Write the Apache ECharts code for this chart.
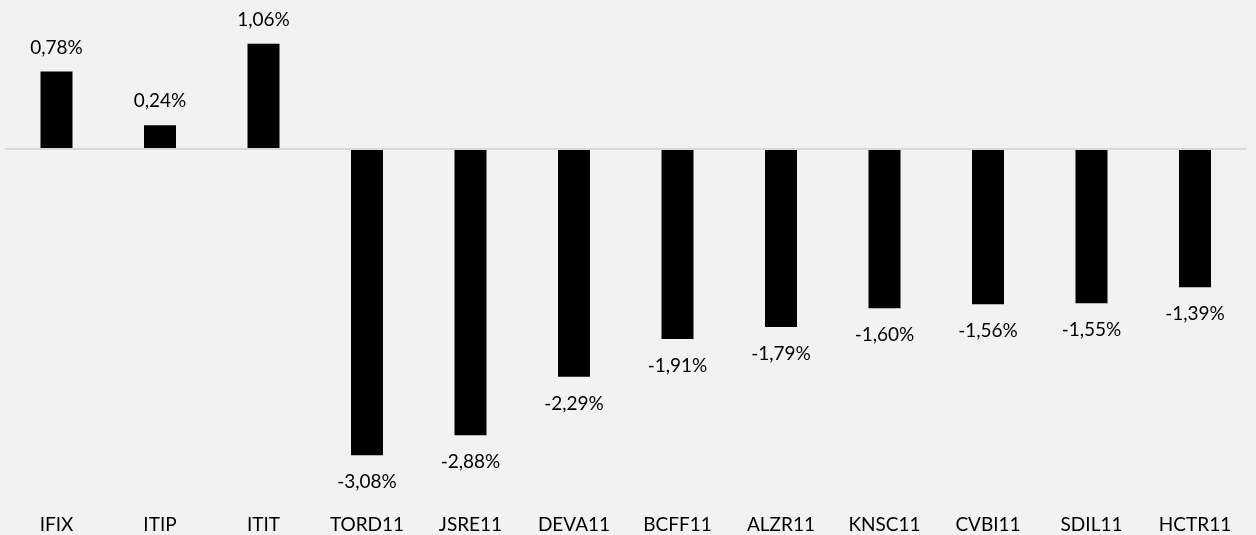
<!DOCTYPE html>
<html>
<head>
<meta charset="utf-8">
<script src="https://cdn.jsdelivr.net/npm/echarts@6/dist/echarts.min.js"></script>
<style>
html,body{margin:0;padding:0;background:#f2f2f2;}
#chart{width:1256px;height:535px;}
</style>
</head>
<body>
<div id="chart"></div>
<script>
const categories = ['IFIX','ITIP','ITIT','TORD11','JSRE11','DEVA11','BCFF11','ALZR11','KNSC11','CVBI11','SDIL11','HCTR11'];
const values = [0.78, 0.24, 1.06, -3.08, -2.88, -2.29, -1.91, -1.79, -1.60, -1.56, -1.55, -1.39];

const FONT = 'Lato';
const fmt = v => v.toFixed(2).replace('.', ',') + '%';

const chart = echarts.init(document.getElementById('chart'), null, {renderer: 'canvas'});
chart.setOption({
  backgroundColor: '#f2f2f2',
  animation: false,
  grid: {left: 4.75, right: 9.25, top: 0, bottom: 35, containLabel: false},
  xAxis: {
    type: 'category',
    data: categories,
    axisLine: {show: false, onZero: false},
    axisTick: {show: false},
    axisLabel: {color: '#000', fontFamily: FONT, fontSize: 19, lineHeight: 20, margin: 18, interval: 0}
  },
  yAxis: {
    type: 'value', min: -3.5, max: 1.5,
    show: false,
    splitLine: {show: false}
  },
  series: [{
    type: 'bar',
    barWidth: 32,
    itemStyle: {color: '#000'},
    data: values.map(v => ({
      value: v,
      label: {
        show: true,
        position: v >= 0 ? 'top' : 'bottom',
        distance: v >= 0 ? 14 : 17,
        formatter: p => fmt(p.value),
        color: '#000', fontFamily: FONT, fontSize: 19, lineHeight: 20
      }
    })),
    markLine: {
      silent: true,
      symbol: ['none', 'none'],
      label: {show: false},
      lineStyle: {color: '#d9d9d9', width: 2, type: 'solid'},
      data: [{yAxis: 0}]
    }
  }]
});
</script>
</body>
</html>
